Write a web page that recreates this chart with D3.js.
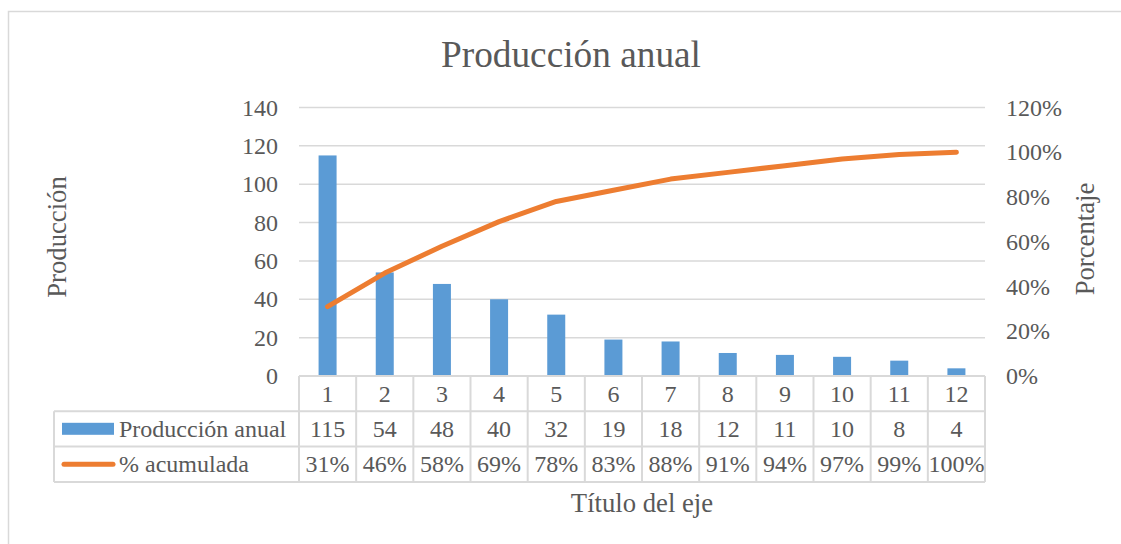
<!DOCTYPE html>
<html>
<head>
<meta charset="utf-8">
<script src="https://cdn.jsdelivr.net/npm/d3@7"></script>
<style>
  body { margin: 0; background: #fff; }
</style>
</head>
<body>
<div id="chart"></div>
<script>
// data
var categories = ["1", "2", "3", "4", "5", "6", "7", "8", "9", "10", "11", "12"];
var produccion = [115, 54, 48, 40, 32, 19, 18, 12, 11, 10, 8, 4];
var acumulada  = [0.31, 0.46, 0.58, 0.69, 0.78, 0.83, 0.88, 0.91, 0.94, 0.97, 0.99, 1.00];
var leftTicks  = [0, 20, 40, 60, 80, 100, 120, 140];
var rightTicks = [0, 0.2, 0.4, 0.6, 0.8, 1.0, 1.2];

var width = 1121, height = 544;
var plot = {left: 299, right: 985, top: 107.5, bottom: 376};
var rowH = 35.3;
var tableLeft = 54;
var grid = "#d9d9d9";
var blue = "#5b9bd5", orange = "#ed7d31";
var serif = '"Liberation Serif", "Times New Roman", serif';

var svg = d3.select("#chart").append("svg")
  .attr("width", width)
  .attr("height", height);

// chart area border
svg.append("rect")
  .attr("x", 8.5).attr("y", 11.5)
  .attr("width", 1120).attr("height", 540)
  .attr("fill", "none")
  .attr("stroke", grid)
  .attr("stroke-width", 1.5);

var x = d3.scaleBand().domain(categories).range([plot.left, plot.right]);
var y = d3.scaleLinear().domain([0, 140]).range([plot.bottom, plot.top]);
var yR = d3.scaleLinear().domain([0, 1.2]).range([plot.bottom, plot.top]);
var barW = 18;

// gridlines
svg.append("g")
  .selectAll("line")
  .data(leftTicks)
  .join("line")
    .attr("x1", plot.left)
    .attr("x2", plot.right)
    .attr("y1", d => y(d))
    .attr("y2", d => y(d))
    .attr("stroke", grid)
    .attr("stroke-width", 1.5);

// left axis
svg.append("g")
  .attr("transform", "translate(" + plot.left + ",0)")
  .call(d3.axisLeft(y).tickValues(leftTicks).tickSize(0).tickPadding(21))
  .call(g => g.select(".domain").remove());

// right axis
svg.append("g")
  .attr("transform", "translate(" + plot.right + ",0)")
  .call(d3.axisRight(yR).tickValues(rightTicks).tickSize(0).tickPadding(21).tickFormat(d3.format(".0%")))
  .call(g => g.select(".domain").remove());

// bars
svg.append("g")
  .selectAll("rect")
  .data(produccion)
  .join("rect")
    .attr("x", (d, i) => x(categories[i]) + (x.bandwidth() - barW) / 2)
    .attr("y", d => y(d))
    .attr("width", barW)
    .attr("height", d => y(0) - y(d))
    .attr("fill", blue);

// cumulative line
var line = d3.line()
  .x((d, i) => x(categories[i]) + x.bandwidth() / 2)
  .y(d => yR(d));

svg.append("path")
  .datum(acumulada)
  .attr("d", line)
  .attr("fill", "none")
  .attr("stroke", orange)
  .attr("stroke-width", 5)
  .attr("stroke-linecap", "round")
  .attr("stroke-linejoin", "round");

// data table
var table = svg.append("g");
var r0 = plot.bottom, r1 = r0 + rowH, r2 = r1 + rowH, r3 = r2 + rowH;

// horizontal rules
table.append("line").attr("x1", plot.left).attr("x2", plot.right).attr("y1", r0).attr("y2", r0);
[r1, r2, r3].forEach(function(r) {
  table.append("line").attr("x1", tableLeft).attr("x2", plot.right).attr("y1", r).attr("y2", r);
});
// vertical rules
table.selectAll("line.col")
  .data(categories.concat(["end"]))
  .join("line")
    .attr("class", "col")
    .attr("x1", (d, i) => plot.left + i * x.bandwidth())
    .attr("x2", (d, i) => plot.left + i * x.bandwidth())
    .attr("y1", r0)
    .attr("y2", r3);
table.append("line").attr("x1", tableLeft).attr("x2", tableLeft).attr("y1", r1).attr("y2", r3);
table.selectAll("line")
  .attr("stroke", grid)
  .attr("stroke-width", 2);

var cellText = function(row, values, fmt) {
  table.append("g")
    .selectAll("text")
    .data(values)
    .join("text")
      .attr("x", (d, i) => x(categories[i]) + x.bandwidth() / 2)
      .attr("y", row + rowH / 2 + 8)
      .attr("text-anchor", "middle")
      .attr("font-size", 24)
      .text(fmt);
};
cellText(r0, categories, d => d);
cellText(r1, produccion, d => d);
cellText(r2, acumulada, d3.format(".0%"));

// legend keys in table
table.append("rect")
  .attr("x", 62).attr("y", r1 + 11.5)
  .attr("width", 52).attr("height", 12)
  .attr("fill", blue);
table.append("line")
  .attr("x1", 64).attr("x2", 113)
  .attr("y1", r2 + rowH / 2).attr("y2", r2 + rowH / 2)
  .attr("stroke", orange)
  .attr("stroke-width", 5)
  .attr("stroke-linecap", "round");
table.append("text")
  .attr("x", 119).attr("y", r1 + rowH / 2 + 8)
  .attr("font-size", 24)
  .text("Producción anual");
table.append("text")
  .attr("x", 119).attr("y", r2 + rowH / 2 + 8)
  .attr("font-size", 24)
  .text("% acumulada");

// titles
svg.append("text")
  .attr("x", 571)
  .attr("y", 67)
  .attr("text-anchor", "middle")
  .attr("font-size", 37.3)
  .text("Producción anual");

svg.append("text")
  .attr("x", (plot.left + plot.right) / 2)
  .attr("y", 512)
  .attr("text-anchor", "middle")
  .attr("font-size", 26.7)
  .text("Título del eje");

svg.append("text")
  .attr("transform", "translate(66,237) rotate(-90)")
  .attr("text-anchor", "middle")
  .attr("font-size", 26.7)
  .text("Producción");

svg.append("text")
  .attr("transform", "translate(1094,239) rotate(-90)")
  .attr("text-anchor", "middle")
  .attr("font-size", 26.7)
  .text("Porcentaje");

// one font and colour for every label, axis ticks included
svg.selectAll("g").attr("font-family", null).attr("font-size", null);
svg.selectAll(".tick text").attr("font-size", 24);
svg.selectAll("text")
  .style("font-family", serif)
  .attr("fill", "#595959");
</script>
</body>
</html>
